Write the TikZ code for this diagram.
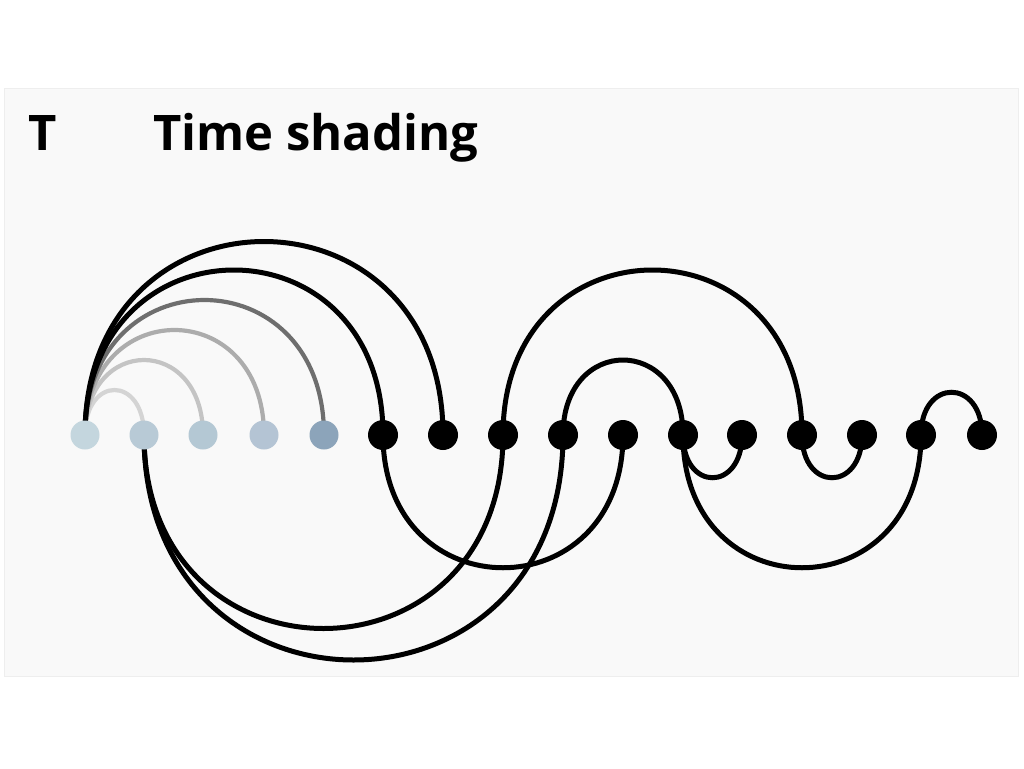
\documentclass[tikz,border=0pt]{standalone}
\usepackage{fontspec}
\setmainfont{Open Sans}
\pgfdeclarelayer{bg}
\pgfdeclarelayer{mid}
\pgfsetlayers{bg,mid,main}
\definecolor{panel}{RGB}{249,249,249}
\definecolor{panelborder}{RGB}{238,238,238}
\definecolor{na}{RGB}{196,214,222}
\definecolor{nb}{RGB}{184,202,214}
\definecolor{nc}{RGB}{180,200,212}
\definecolor{nd}{RGB}{180,196,212}
\definecolor{ne}{RGB}{140,164,186}
\definecolor{ga}{RGB}{212,212,212}
\definecolor{gb}{RGB}{196,196,196}
\definecolor{gc}{RGB}{172,172,172}
\definecolor{gd}{RGB}{110,110,110}
\tikzset{
  dotnode/.style={circle, fill=black, inner sep=0pt, minimum size=30pt},
  lightnode/.style={circle, inner sep=0pt, minimum size=29pt},
  arcline/.style={line width=5pt, black},
  greyline/.style={line width=4.2pt},
  titletext/.style={font=\bfseries\fontsize{49}{56}\selectfont, inner sep=0pt}
}
\begin{document}
\begin{tikzpicture}[x=1pt,y=-1pt]
\useasboundingbox (0,0) rectangle (1024,768);
\begin{pgfonlayer}{bg}
  \fill[white] (0,0) rectangle (1024,768);
  \draw[panelborder, fill=panel, line width=1pt] (4,88) rectangle (1018,676);
\end{pgfonlayer}

\node[titletext, anchor=base west] (lbl) at (28,150) {T};
\node[titletext, anchor=base west] (title) at (153,150) {Time shading};

% light nodes
\node[lightnode, fill=na] (n1) at (85,435) {};
\node[lightnode, fill=nb] (n2) at (144,435) {};
\node[lightnode, fill=nc] (n3) at (203,435) {};
\node[lightnode, fill=nd] (n4) at (264,435) {};
\node[lightnode, fill=ne] (n5) at (324,435) {};
% black nodes
\node[dotnode] (n6) at (383,435) {};
\node[dotnode] (n7) at (443,435) {};
\node[dotnode] (n8) at (503,435) {};
\node[dotnode] (n9) at (563,435) {};
\node[dotnode] (n10) at (623,435) {};
\node[dotnode] (n11) at (683,435) {};
\node[dotnode] (n12) at (742,435) {};
\node[dotnode] (n13) at (802,435) {};
\node[dotnode] (n14) at (862,435) {};
\node[dotnode] (n15) at (921,435) {};
\node[dotnode] (n16) at (982,435) {};

\begin{pgfonlayer}{mid}
  % upper arcs from n1
  \draw[greyline, ga] (n1.center) .. controls +(0,-60) and +(0,-60) .. (n2.center);
  \draw[greyline, gb] (n1.center) .. controls +(0,-100) and +(0,-100) .. (n3.center);
  \draw[greyline, gc] (n1.center) .. controls +(0,-140) and +(0,-140) .. (n4.center);
  \draw[greyline, gd] (n1.center) .. controls +(0,-180) and +(0,-180) .. (n5.center);
  \draw[arcline] (n1.center) .. controls +(0,-220) and +(0,-220) .. (n6.center);
  \draw[arcline] (n1.center) .. controls +(0,-258) and +(0,-258) .. (n7.center);
  % lower arcs
  \draw[arcline] (n2.center) .. controls +(0,258) and +(0,258) .. (n8.center);
  \draw[arcline] (n2.center) .. controls +(0,300) and +(0,300) .. (n9.center);
  \draw[arcline] (n6.center) .. controls +(0,177) and +(0,177) .. (n10.center);
  % right part
  \draw[arcline] (n8.center) .. controls +(0,-220) and +(0,-220) .. (n13.center);
  \draw[arcline] (n9.center) .. controls +(0,-100) and +(0,-100) .. (n11.center);
  \draw[arcline] (n11.center) .. controls +(0,57) and +(0,57) .. (n12.center);
  \draw[arcline] (n11.center) .. controls +(0,177) and +(0,177) .. (n15.center);
  \draw[arcline] (n13.center) .. controls +(0,57) and +(0,57) .. (n14.center);
  \draw[arcline] (n15.center) .. controls +(0,-57) and +(0,-57) .. (n16.center);
\end{pgfonlayer}
\end{tikzpicture}
\end{document}
